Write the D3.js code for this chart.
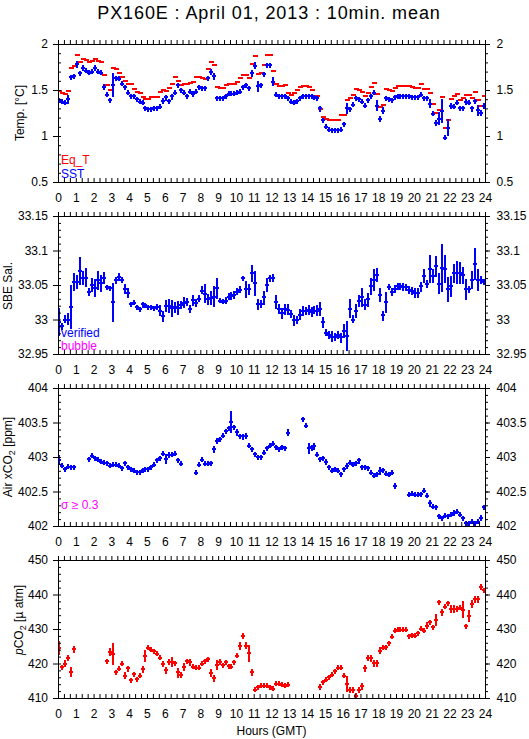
<!DOCTYPE html>
<html>
<head>
<meta charset="utf-8">
<script src="https://cdn.jsdelivr.net/npm/d3@7"></script>
<style>
  body { margin: 0; background: #fff; }
  svg { font-family: "Liberation Sans", Arial, Helvetica, sans-serif; }
</style>
</head>
<body>
<div id="chart"></div>
<script>
// ---- data: 10 min means, 144 slots per day (null = no data) ----
const slotMinutes = 10;

const sst = [
  1.39,1.37,1.36,1.40,1.64,1.65,1.78,1.68,1.74,1.71,1.69,1.70,
  1.74,1.70,1.69,1.53,1.45,1.39,1.55,1.63,1.62,1.57,1.53,1.47,
  1.43,1.43,1.40,1.37,1.36,1.30,1.29,1.29,1.30,1.30,1.32,1.38,
  1.42,1.38,1.43,1.47,1.55,1.50,1.47,1.43,1.48,1.46,1.48,1.53,
  1.52,1.52,1.63,1.70,1.65,1.41,1.41,1.41,1.43,1.46,1.46,1.46,
  1.47,1.48,1.53,1.55,1.52,1.68,1.76,1.54,1.55,1.67,1.77,1.77,
  1.59,1.45,1.43,1.43,1.43,1.41,1.37,1.36,1.38,1.41,1.43,1.43,
  1.43,1.43,1.42,1.41,1.30,1.17,1.10,1.07,1.065,1.065,1.06,1.07,
  1.13,1.30,1.29,1.34,1.41,1.40,1.37,1.33,1.39,1.43,1.47,1.33,
  1.19,1.27,1.41,1.40,1.39,1.42,1.43,1.43,1.43,1.43,1.43,1.42,
  1.42,1.42,1.45,1.41,1.41,1.35,1.24,1.14,1.19,1.27,0.98,1.09,
  1.33,1.32,1.36,1.30,1.30,1.37,1.36,1.30,1.38,1.28,1.25,1.33
];
const sstErr = [
  0.01,0.01,0.01,0.05,0.01,0.01,0.04,0.01,0.03,0.01,0.01,0.01,
  0.03,0.01,0.01,0.03,0.01,0.01,0.13,0.01,0.01,0.01,0.02,0.01,
  0.01,0.01,0.01,0.01,0.01,0.01,0.01,0.01,0.01,0.01,0.01,0.03,
  0.03,0.02,0.03,0.02,0.01,0.02,0.01,0.01,0.01,0.03,0.01,0.01,
  0.01,0.01,0.01,0.03,0.04,0.01,0.01,0.01,0.01,0.01,0.01,0.01,
  0.01,0.01,0.01,0.02,0.01,0.04,0.04,0.06,0.02,0.02,0.01,0.01,
  0.05,0.01,0.01,0.01,0.01,0.01,0.01,0.01,0.01,0.01,0.01,0.01,
  0.01,0.01,0.01,0.01,0.03,0.02,0.01,0.01,0.01,0.01,0.01,0.01,
  0.01,0.06,0.01,0.02,0.02,0.01,0.01,0.02,0.02,0.01,0.02,0.06,
  0.03,0.04,0.01,0.01,0.01,0.01,0.01,0.01,0.01,0.01,0.01,0.01,
  0.01,0.01,0.02,0.01,0.01,0.05,0.02,0.03,0.07,0.13,0.01,0.09,
  0.03,0.01,0.02,0.02,0.01,0.03,0.01,0.03,0.02,0.06,0.03,0.03
];
const eqT = [
  1.49,1.47,1.46,1.49,1.74,1.76,1.88,1.80,1.84,1.83,1.80,1.81,
  1.84,1.82,1.80,1.66,1.55,1.50,1.74,1.73,1.69,1.64,1.60,1.56,
  1.56,1.51,1.48,1.47,1.42,1.40,1.40,1.42,1.42,1.42,1.48,1.50,
  1.49,1.52,1.56,1.64,1.60,1.55,1.57,1.57,1.58,1.59,1.64,1.64,
  1.63,1.62,1.73,1.80,1.77,1.53,1.52,1.52,1.55,1.56,1.57,1.57,
  1.59,1.63,1.66,1.66,1.63,1.78,1.87,1.67,1.68,1.77,1.88,1.88,
  1.71,1.56,1.54,1.54,1.55,1.47,1.45,1.47,1.50,1.53,1.54,1.54,
  1.53,1.50,1.43,1.43,1.29,1.21,1.18,1.17,1.17,1.17,1.17,1.23,
  1.23,1.39,1.41,1.45,1.51,1.50,1.48,1.44,1.47,1.53,1.58,1.46,
  1.31,1.34,1.51,1.50,1.49,1.52,1.54,1.54,1.54,1.54,1.54,1.53,
  1.52,1.52,1.56,1.51,1.51,1.47,1.35,1.25,1.28,1.42,1.09,1.17,
  1.40,1.43,1.46,1.39,1.41,1.45,1.45,1.41,1.48,1.39,1.33,1.43
];

const sal = [
  32.996,32.990,33.000,33.000,33.018,33.055,33.055,33.070,33.060,33.060,33.040,33.050,
  33.046,33.057,33.053,33.060,33.047,33.045,33.025,33.057,33.062,33.057,33.044,33.038,
  33.022,33.024,33.018,33.015,33.022,33.021,33.018,33.018,33.016,33.018,33.013,33.005,
  33.019,33.020,33.016,33.018,33.017,33.021,33.024,33.025,33.015,33.028,33.024,33.030,
  33.042,33.037,33.029,33.031,33.033,33.045,33.027,33.026,33.027,33.033,33.034,33.036,
  33.040,33.043,33.060,33.044,33.044,33.067,33.053,33.022,33.022,33.032,33.050,33.060,
  33.060,33.025,33.015,33.009,33.015,33.014,33.008,32.999,32.999,33.007,33.013,33.012,
  33.014,33.011,33.013,33.013,33.015,32.996,32.981,32.977,32.975,32.975,32.977,32.974,
  32.983,32.976,33.015,33.000,33.012,33.027,33.032,33.021,33.029,33.048,33.057,33.064,
  33.036,33.006,33.025,33.047,33.040,33.044,33.048,33.048,33.047,33.047,33.043,33.041,
  33.038,33.038,33.048,33.063,33.051,33.073,33.063,33.077,33.052,33.075,33.073,33.044,
  33.048,33.067,33.068,33.067,33.064,33.044,33.044,33.057,33.080,33.057,33.057,33.055
];
const salErr = [
  0.020,0.005,0.006,0.009,0.032,0.013,0.010,0.020,0.010,0.014,0.006,0.010,
  0.013,0.014,0.012,0.009,0.002,0.003,0.028,0.005,0.006,0.004,0.007,0.007,
  0.003,0.003,0.003,0.003,0.004,0.003,0.003,0.003,0.003,0.004,0.008,0.008,
  0.009,0.010,0.012,0.008,0.010,0.006,0.008,0.006,0.006,0.008,0.006,0.005,
  0.006,0.014,0.008,0.010,0.015,0.015,0.003,0.003,0.005,0.005,0.006,0.006,
  0.005,0.005,0.003,0.012,0.008,0.012,0.018,0.008,0.006,0.010,0.010,0.005,
  0.006,0.010,0.007,0.008,0.008,0.008,0.006,0.008,0.006,0.008,0.007,0.006,
  0.007,0.007,0.006,0.008,0.010,0.008,0.005,0.006,0.008,0.006,0.006,0.007,
  0.010,0.022,0.014,0.006,0.010,0.009,0.014,0.008,0.010,0.012,0.016,0.010,
  0.010,0.007,0.015,0.004,0.006,0.006,0.005,0.005,0.006,0.005,0.006,0.006,
  0.007,0.007,0.007,0.010,0.006,0.020,0.010,0.015,0.015,0.035,0.020,0.018,
  0.015,0.014,0.017,0.016,0.012,0.015,0.005,0.013,0.023,0.016,0.006,0.004
];

const airCO2 = [
  402.96,402.87,402.82,402.86,402.85,402.85,null,null,null,null,402.97,403.02,
  402.98,402.96,402.93,402.92,402.91,402.87,402.89,402.89,402.87,402.84,402.91,402.85,
  402.82,402.80,402.78,402.78,402.81,402.82,402.82,402.85,402.89,402.95,402.98,403.05,
  402.97,403.03,403.03,403.05,402.95,402.90,null,null,null,null,402.77,402.89,
  402.96,402.90,402.90,402.91,403.11,403.23,403.26,403.31,403.37,403.42,403.51,403.43,
  403.36,403.30,403.30,403.31,403.16,403.11,403.04,403.00,403.00,403.06,403.13,403.16,
  403.19,403.14,403.11,403.14,403.13,403.35,null,null,null,null,403.55,403.45,
  403.13,403.14,403.16,403.03,402.97,402.98,402.93,402.85,402.80,402.82,402.80,402.75,
  402.82,402.87,402.92,402.89,402.91,402.95,402.85,402.85,402.84,402.77,402.73,402.75,
  402.80,402.81,402.76,402.74,402.77,402.58,null,null,null,null,402.45,402.47,
  402.45,402.45,402.46,402.51,402.44,402.33,402.28,402.27,402.14,402.11,402.15,402.14,
  402.16,402.19,402.21,402.16,402.11,402.04,402.04,402.06,402.04,402.06,402.12,402.27
];
const airErr = [
  0.07,0.02,0.02,0.02,0.02,0.02,0,0,0,0,0.02,0.02,
  0.02,0.02,0.02,0.02,0.02,0.02,0.02,0.02,0.02,0.02,0.02,0.02,
  0.02,0.02,0.02,0.02,0.02,0.02,0.02,0.02,0.02,0.02,0.03,0.02,
  0.07,0.04,0.02,0.02,0.02,0.02,0,0,0,0,0.02,0.02,
  0.02,0.02,0.02,0.02,0.05,0.04,0.02,0.02,0.02,0.02,0.16,0.02,
  0.05,0.02,0.04,0.04,0.03,0.02,0.02,0.02,0.02,0.02,0.02,0.02,
  0.02,0.02,0.02,0.02,0.02,0.05,0,0,0,0,0.02,0.02,
  0.08,0.04,0.05,0.02,0.02,0.03,0.04,0.02,0.02,0.02,0.02,0.02,
  0.03,0.04,0.03,0.02,0.03,0.04,0.02,0.02,0.02,0.02,0.02,0.02,
  0.06,0.02,0.03,0.02,0.03,0.04,0,0,0,0,0.02,0.02,
  0.02,0.02,0.02,0.02,0.02,0.05,0.02,0.02,0.03,0.02,0.02,0.02,
  0.03,0.04,0.03,0.02,0.02,0.02,0.02,0.02,0.02,0.02,0.04,0.03
];

const pco2 = [
  424.5,418.9,420.0,421.6,417.5,424.2,null,null,null,null,null,null,
  null,null,null,null,420.6,423.2,422.8,417.4,418.5,419.9,416.5,418.6,
  415.1,416.9,415.5,416.5,418.4,422.3,424.5,424.0,423.5,422.8,421.6,419.9,
  418.0,420.5,420.5,420.1,417.4,416.8,419.0,420.6,420.3,419.0,418.7,418.7,
  419.9,420.6,421.3,417.2,415.8,419.5,420.5,419.5,420.4,419.2,419.0,420.3,
  422.3,425.0,428.1,425.2,423.0,417.4,412.4,413.1,413.6,413.6,413.6,413.1,
  412.7,414.1,414.2,413.8,413.6,413.8,null,null,null,null,null,null,
  null,null,null,null,413.2,414.6,415.3,416.0,416.8,417.7,418.7,418.7,
  416.5,414.0,412.4,412.4,410.7,412.4,413.4,418.7,421.6,421.5,420.1,420.1,
  423.7,424.5,424.7,425.9,427.7,429.5,429.8,429.8,429.8,429.8,427.9,428.2,
  428.1,428.8,430.1,429.5,431.0,431.9,430.5,432.5,437.7,434.9,436.4,437.5,
  435.8,435.8,435.9,436.1,435.6,430.8,433.7,437.3,438.7,438.7,442.1,441.2
];
const pco2Err = [
  2.0,0.5,1.0,0.8,1.5,1.0,0,0,0,0,0,0,
  0,0,0,0,0.6,1.2,3.2,0.2,0.6,0.3,1.0,0.8,
  0.6,0.5,0.3,0.5,1.0,1.7,0.3,0.3,0.4,0.5,0.4,0.8,
  1.0,0.8,1.5,0.5,1.4,0.8,1.2,0.6,1.0,0.6,0.6,0.4,
  0.4,0.4,0.5,1.2,1.0,1.4,0.8,0.3,0.5,0.5,0.5,0.7,
  0.7,1.2,0.8,1.0,2.5,1.0,0.6,0.4,0.3,0.3,0.3,0.3,
  0.4,0.5,0.4,0.3,0.3,0.3,0,0,0,0,0,0,
  0,0,0,0,0.8,0.5,0.4,0.4,0.4,0.5,0.6,0.6,
  0.5,2.3,0.8,0.8,0.5,0.8,1.0,1.0,0.8,1.0,1.0,1.0,
  1.0,0.5,0.4,0.5,0.6,0.6,0.6,0.5,0.5,0.7,0.3,0.4,
  0.5,0.5,0.5,0.6,1.0,0.5,0.5,1.8,0.6,1.0,0.6,0.5,
  1.2,1.2,0.8,0.6,2.5,0.4,1.8,1.2,1.0,1.0,0.8,0.5
];

// axis ticks
const hourTicks = d3.range(0, 73).map(i => i / 3);   // every 20 min, labels on full hours
const yMajor = [
  [0.5, 1, 1.5, 2],
  [32.95, 33, 33.05, 33.1, 33.15],
  [402, 402.5, 403, 403.5, 404],
  [410, 420, 430, 440, 450]
];
const yMinorStep = [0.1, 0.01, 0.1, 2];
const yTitles = ['Temp. [°C]', 'SBE Sal.', 'Air xCO2 [ppm]', 'pCO2 [µ atm]'];

// ---- layout ----
const width = 529, height = 739;
const plotL = 58, plotR = 485;
const panelTop = [44, 216, 388, 560];
const panelH = 138;
const BLUE = '#0000ff', RED = '#ff0000', MAGENTA = '#ff00ff';

const svg = d3.select('#chart').append('svg')
  .attr('width', width)
  .attr('height', height);

const x = d3.scaleLinear().domain([0, 24]).range([plotL, plotR]);
const slotTime = i => (i * slotMinutes + slotMinutes / 2) / 60;

svg.append('text')
  .attr('x', 269).attr('y', 18.5)
  .attr('text-anchor', 'middle')
  .attr('font-size', 18).attr('letter-spacing', 0.9)
  .text('PX160E : April 01, 2013 : 10min. mean');

const fmt = d => String(+d.toFixed(2));

function styleAxis(g) {
  g.select('.domain').remove();
  g.selectAll('text').attr('font-size', 12).attr('fill', '#000');
  g.attr('font-family', null);
}

// "+" markers, vertical arm grows into an error bar; dash only for Eq_T
function plusMarks(g, y, vals, errs, color, dashOnly) {
  const pts = vals.map((v, i) => ({t: slotTime(i), v, e: errs ? errs[i] : 0}))
    .filter(d => d.v != null);
  g.selectAll(null).data(pts).join('rect')
    .attr('x', d => Math.round(x(d.t)) - 2)
    .attr('y', d => Math.round(y(d.v)) - 1)
    .attr('width', dashOnly ? 5 : 4)
    .attr('height', 2)
    .attr('fill', color);
  if (dashOnly) return;
  g.selectAll(null).data(pts).join('rect')
    .attr('x', d => Math.round(x(d.t)) - 1)
    .attr('y', d => Math.round(Math.min(y(d.v + d.e), y(d.v) - 2.5)))
    .attr('width', 2)
    .attr('height', d => Math.round(Math.max(y(d.v - d.e) - y(d.v + d.e), 5)))
    .attr('fill', color);
}

const series = [
  [{vals: eqT, errs: null, color: RED, dash: true}, {vals: sst, errs: sstErr, color: BLUE}],
  [{vals: sal, errs: salErr, color: BLUE}],
  [{vals: airCO2, errs: airErr, color: BLUE}],
  [{vals: pco2, errs: pco2Err, color: RED}]
];

panelTop.forEach((top, k) => {
  const major = yMajor[k];
  const lo = major[0], hi = major[major.length - 1];
  const y = d3.scaleLinear().domain([lo, hi]).range([top + panelH, top]);
  const minor = d3.range(Math.round((hi - lo) / yMinorStep[k]) + 1).map(i => lo + i * yMinorStep[k]);
  const g = svg.append('g');

  // clip for marks
  g.append('clipPath').attr('id', 'clip' + k)
    .append('rect').attr('x', plotL).attr('y', top).attr('width', plotR - plotL + 1).attr('height', panelH + 1);

  const marks = g.append('g').attr('clip-path', `url(#clip${k})`);
  series[k].forEach(s => plusMarks(marks, y, s.vals, s.errs, s.color, s.dash));

  // frame
  g.append('rect')
    .attr('x', plotL + 0.5).attr('y', top + 0.5)
    .attr('width', plotR - plotL).attr('height', panelH)
    .attr('fill', 'none').attr('stroke', '#000');

  // x axes: ticks pointing up on both edges
  g.append('g').attr('transform', `translate(0,${top + panelH})`)
    .call(d3.axisBottom(x).tickValues(hourTicks).tickSize(-4).tickPadding(11.5)
      .tickFormat(d => Number.isInteger(d) ? d : ''))
    .call(styleAxis);
  g.append('g').attr('transform', `translate(0,${top})`)
    .call(d3.axisTop(x).tickValues(hourTicks).tickSize(4).tickFormat(() => ''))
    .call(styleAxis);

  // y axes: major ticks outward, minor ticks to the right
  g.append('g').attr('transform', `translate(${plotL},0)`)
    .call(d3.axisLeft(y).tickValues(major).tickSize(5).tickPadding(5).tickFormat(fmt))
    .call(styleAxis);
  g.append('g').attr('transform', `translate(${plotL},0)`)
    .call(d3.axisLeft(y).tickValues(minor).tickSize(-3).tickFormat(() => ''))
    .call(styleAxis);
  g.append('g').attr('transform', `translate(${plotR},0)`)
    .call(d3.axisRight(y).tickValues(major).tickSize(5).tickPadding(6.5).tickFormat(fmt))
    .call(styleAxis);
  g.append('g').attr('transform', `translate(${plotR},0)`)
    .call(d3.axisRight(y).tickValues(minor).tickSize(3).tickFormat(() => ''))
    .call(styleAxis);
});

// y titles
const titlePos = [[24, 113], [11.5, 286], [12, 457], [22.5, 620]];
titlePos.forEach(([tx, ty], k) => {
  const t = svg.append('text')
    .attr('transform', `translate(${tx},${ty}) rotate(-90)`)
    .attr('text-anchor', 'middle')
    .attr('font-size', 12);
  if (k === 2) {
    t.append('tspan').text('Air xCO');
    t.append('tspan').attr('dy', 3).attr('font-size', 9).text('2');
    t.append('tspan').attr('dy', -3).text(' [ppm]');
  } else if (k === 3) {
    t.append('tspan').attr('font-style', 'italic').text('p');
    t.append('tspan').text('CO');
    t.append('tspan').attr('dy', 3).attr('font-size', 9).text('2');
    t.append('tspan').attr('dy', -3).text(' [µ atm]');
  } else {
    t.text(yTitles[k]);
  }
});

// in-panel legends
const legend = [
  {text: 'Eq_T', color: RED, y: 164},
  {text: 'SST', color: BLUE, y: 177.5},
  {text: 'verified', color: BLUE, y: 337},
  {text: 'bubble', color: MAGENTA, y: 349.5},
  {text: 'σ ≥ 0.3', color: MAGENTA, y: 508.5}
];
svg.selectAll(null).data(legend).join('text')
  .attr('x', 61).attr('y', d => d.y)
  .attr('font-size', 12)
  .attr('fill', d => d.color)
  .text(d => d.text);

svg.append('text')
  .attr('x', 271.5).attr('y', 735)
  .attr('text-anchor', 'middle')
  .attr('font-size', 12)
  .text('Hours (GMT)');
</script>
</body>
</html>
